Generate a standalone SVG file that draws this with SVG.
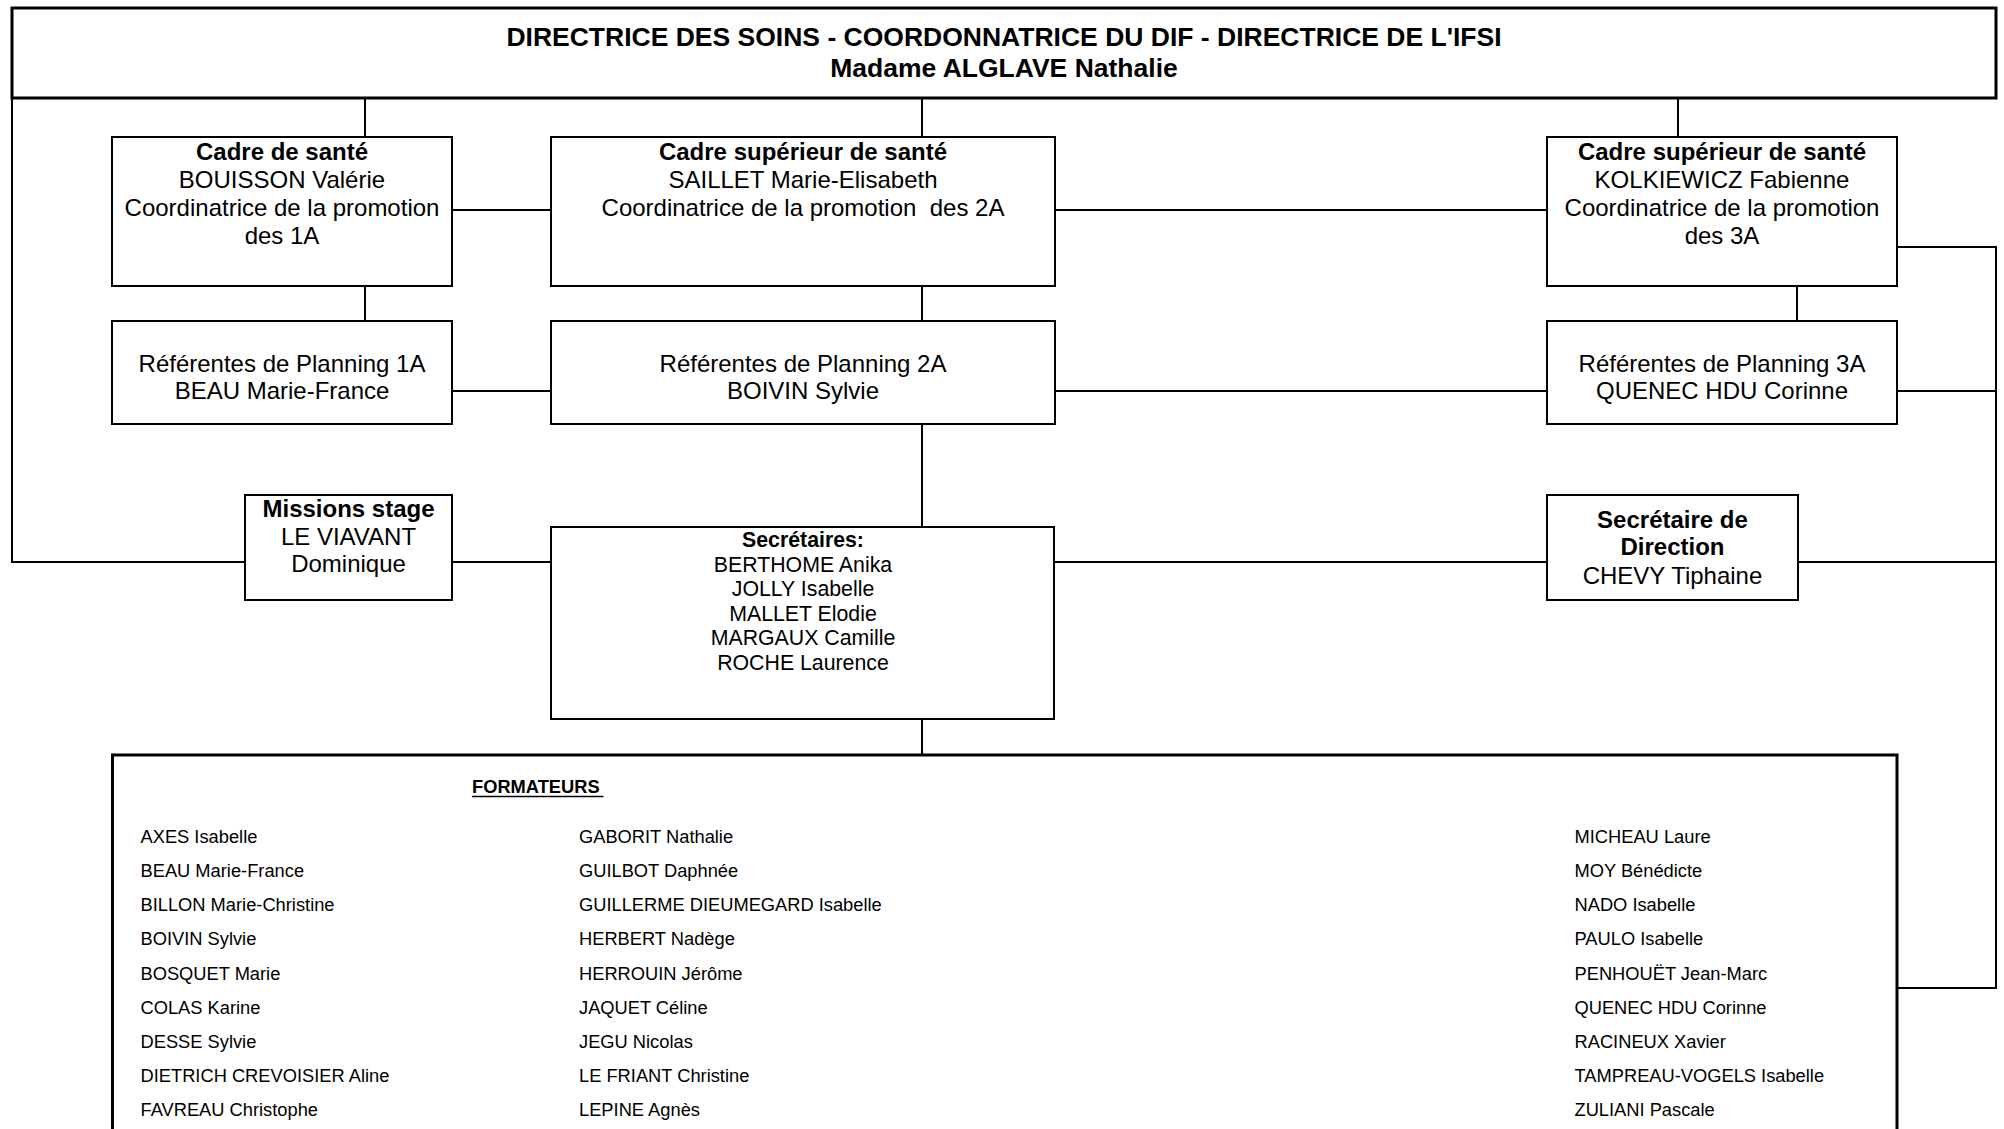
<svg xmlns="http://www.w3.org/2000/svg" width="2004" height="1129" viewBox="0 0 2004 1129">
<style>
.box{fill:#fff;stroke:#000;stroke-width:2}
.thick{fill:#fff;stroke:#000;stroke-width:3}
.conn{fill:none;stroke:#000;stroke-width:2}
text{font-family:"Liberation Sans",Arial,sans-serif;fill:#000}
.t{font-size:24px;text-anchor:middle}
.h{font-size:26.5px;font-weight:bold;text-anchor:middle}
.b{font-weight:bold}
.s{font-size:21.3px;text-anchor:middle}
.f{font-size:18.3px}
</style>
<rect width="2004" height="1129" fill="#fff"/>
<g id="connectors">
<path class="conn" d="M365 98V137"/>
<path class="conn" d="M922 98V137"/>
<path class="conn" d="M1678 98V137"/>
<path class="conn" d="M452 210H551"/>
<path class="conn" d="M1055 210H1547"/>
<path class="conn" d="M365 286V321"/>
<path class="conn" d="M922 286V321"/>
<path class="conn" d="M1797 286V321"/>
<path class="conn" d="M452 391H551"/>
<path class="conn" d="M1055 391H1547"/>
<path class="conn" d="M922 424V527"/>
<path class="conn" d="M12 98V562H245"/>
<path class="conn" d="M452 562H551"/>
<path class="conn" d="M1054 562H1547"/>
<path class="conn" d="M922 719V755"/>
<path class="conn" d="M1897 247H1996V988H1897"/>
<path class="conn" d="M1897 391H1996"/>
<path class="conn" d="M1798 562H1996"/>
</g>
<g id="directrice">
<rect class="thick" x="12" y="8" width="1984" height="90"/>
<text class="h" x="1004" y="46">DIRECTRICE DES SOINS - COORDONNATRICE DU DIF - DIRECTRICE DE L'IFSI</text>
<text class="h" x="1004" y="76.5">Madame ALGLAVE Nathalie</text>
</g>
<g id="cadre-1a">
<rect class="box" x="112" y="137" width="340" height="149"/>
<text class="t" x="282" y="160"><tspan class="b">Cadre de santé</tspan></text>
<text class="t" x="282" y="188">BOUISSON Valérie</text>
<text class="t" x="282" y="216">Coordinatrice de la promotion</text>
<text class="t" x="282" y="243.5">des 1A</text>
</g>
<g id="cadre-2a">
<rect class="box" x="551" y="137" width="504" height="149"/>
<text class="t" x="803" y="160"><tspan class="b">Cadre supérieur de santé</tspan></text>
<text class="t" x="803" y="188">SAILLET Marie-Elisabeth</text>
<text class="t" x="803" y="216" xml:space="preserve">Coordinatrice de la promotion  des 2A</text>
</g>
<g id="cadre-3a">
<rect class="box" x="1547" y="137" width="350" height="149"/>
<text class="t" x="1722" y="160"><tspan class="b">Cadre supérieur de santé</tspan></text>
<text class="t" x="1722" y="188">KOLKIEWICZ Fabienne</text>
<text class="t" x="1722" y="216">Coordinatrice de la promotion</text>
<text class="t" x="1722" y="243.5">des 3A</text>
</g>
<g id="ref-1a">
<rect class="box" x="112" y="321" width="340" height="103"/>
<text class="t" x="282" y="371.5">Référentes de Planning 1A</text>
<text class="t" x="282" y="398.5">BEAU Marie-France</text>
</g>
<g id="ref-2a">
<rect class="box" x="551" y="321" width="504" height="103"/>
<text class="t" x="803" y="371.5">Référentes de Planning 2A</text>
<text class="t" x="803" y="398.5">BOIVIN Sylvie</text>
</g>
<g id="ref-3a">
<rect class="box" x="1547" y="321" width="350" height="103"/>
<text class="t" x="1722" y="371.5">Référentes de Planning 3A</text>
<text class="t" x="1722" y="398.5">QUENEC HDU Corinne</text>
</g>
<g id="missions-stage">
<rect class="box" x="245" y="495" width="207" height="105"/>
<text class="t b" x="348.5" y="517">Missions stage</text>
<text class="t" x="348.5" y="545">LE VIAVANT</text>
<text class="t" x="348.5" y="572">Dominique</text>
</g>
<g id="secretaires">
<rect class="box" x="551" y="527" width="503" height="192"/>
<text class="s b" x="803" y="547">Secrétaires:</text>
<text class="s" x="803" y="571.5">BERTHOME Anika</text>
<text class="s" x="803" y="596">JOLLY Isabelle</text>
<text class="s" x="803" y="620.5">MALLET Elodie</text>
<text class="s" x="803" y="645">MARGAUX Camille</text>
<text class="s" x="803" y="669.5">ROCHE Laurence</text>
</g>
<g id="secretaire-direction">
<rect class="box" x="1547" y="495" width="251" height="105"/>
<text class="t b" x="1672.5" y="528">Secrétaire de</text>
<text class="t b" x="1672.5" y="555">Direction</text>
<text class="t" x="1672.5" y="583.5">CHEVY Tiphaine</text>
</g>
<g id="formateurs">
<rect class="thick" x="112.5" y="755" width="1784.5" height="420"/>
<text class="f b" x="472" y="793">FORMATEURS</text>
<path d="M472 796.5H603.5" stroke="#000" stroke-width="1.6"/>
<g class="f">
<text class="f" x="140.5" y="842.7">AXES Isabelle</text>
<text class="f" x="140.5" y="876.9">BEAU Marie-France</text>
<text class="f" x="140.5" y="911.1">BILLON Marie-Christine</text>
<text class="f" x="140.5" y="945.3">BOIVIN Sylvie</text>
<text class="f" x="140.5" y="979.5">BOSQUET Marie</text>
<text class="f" x="140.5" y="1013.7">COLAS Karine</text>
<text class="f" x="140.5" y="1047.9">DESSE Sylvie</text>
<text class="f" x="140.5" y="1082.1">DIETRICH CREVOISIER Aline</text>
<text class="f" x="140.5" y="1116.3">FAVREAU Christophe</text>
<text class="f" x="579" y="842.7">GABORIT Nathalie</text>
<text class="f" x="579" y="876.9">GUILBOT Daphnée</text>
<text class="f" x="579" y="911.1">GUILLERME DIEUMEGARD Isabelle</text>
<text class="f" x="579" y="945.3">HERBERT Nadège</text>
<text class="f" x="579" y="979.5">HERROUIN Jérôme</text>
<text class="f" x="579" y="1013.7">JAQUET Céline</text>
<text class="f" x="579" y="1047.9">JEGU Nicolas</text>
<text class="f" x="579" y="1082.1">LE FRIANT Christine</text>
<text class="f" x="579" y="1116.3">LEPINE Agnès</text>
<text class="f" x="1574.5" y="842.7">MICHEAU Laure</text>
<text class="f" x="1574.5" y="876.9">MOY Bénédicte</text>
<text class="f" x="1574.5" y="911.1">NADO Isabelle</text>
<text class="f" x="1574.5" y="945.3">PAULO Isabelle</text>
<text class="f" x="1574.5" y="979.5">PENHOUËT Jean-Marc</text>
<text class="f" x="1574.5" y="1013.7">QUENEC HDU Corinne</text>
<text class="f" x="1574.5" y="1047.9">RACINEUX Xavier</text>
<text class="f" x="1574.5" y="1082.1">TAMPREAU-VOGELS Isabelle</text>
<text class="f" x="1574.5" y="1116.3">ZULIANI Pascale</text>
</g>
</g>
</svg>
